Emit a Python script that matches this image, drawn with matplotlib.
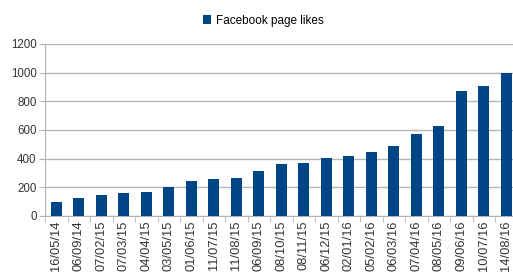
import matplotlib.pyplot as plt
import numpy as np

dates = ["16/05/14", "06/09/14", "07/02/15", "07/03/15", "04/04/15", "03/05/15",
         "01/06/15", "11/07/15", "11/08/15", "06/09/15", "08/10/15", "08/11/15",
         "06/12/15", "02/01/16", "05/02/16", "06/03/16", "07/04/16", "08/05/16",
         "09/06/16", "10/07/16", "14/08/16"]
likes = [95, 129, 150, 157, 168, 203, 244, 261, 265, 313, 365, 372,
         406, 420, 445, 489, 570, 625, 872, 904, 1000]
y_ticks = [0, 200, 400, 600, 800, 1000, 1200]

BAR_COLOR = "#004586"
GRID_COLOR = "#b3b3b3"

plt.rcParams["font.family"] = ["Liberation Sans", "DejaVu Sans"]

fig = plt.figure(figsize=(5.13, 2.75), dpi=100)
# axes run a bit past the right edge, as in the cropped original
ax = fig.add_axes([45 / 513, 59 / 275, 472.5 / 513, 172 / 275])

x = np.arange(len(dates))
ax.bar(x, likes, width=0.5, color=BAR_COLOR, zorder=3, label="Facebook page likes")

ax.set_xlim(-0.5, len(dates) - 0.5)
ax.set_ylim(0, 1200)
ax.set_yticks(y_ticks)
ax.yaxis.grid(True, color=GRID_COLOR, lw=1)
ax.set_axisbelow(True)

# labels at bar centres, tick marks at category boundaries
ax.set_xticks(x)
ax.set_xticklabels(dates, rotation=90, fontsize=9.3, color="#333333")
ax.set_xticks(np.arange(-0.5, len(dates), 1), minor=True)
ax.tick_params(axis="x", which="major", length=0, pad=3)
ax.tick_params(axis="x", which="minor", length=4, color=GRID_COLOR)
ax.tick_params(axis="y", length=4, color=GRID_COLOR, labelsize=8.3,
               labelcolor="#333333", pad=2)

for side in ["top", "right"]:
    ax.spines[side].set_visible(False)
for side in ["left", "bottom"]:
    ax.spines[side].set_color(GRID_COLOR)

fig.legend(loc="upper center", bbox_to_anchor=(263 / 513, 0.985), frameon=False,
           fontsize=8.5, handlelength=0.7, handleheight=0.7, handletextpad=0.4)

plt.savefig("out.png")
